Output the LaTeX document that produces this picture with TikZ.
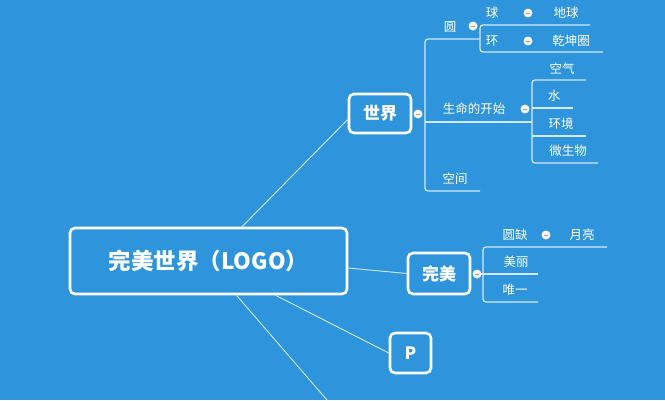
\documentclass[tikz,border=0pt]{standalone}
\usepackage{fontspec}
\newfontfamily\cjk{Noto Sans CJK SC}
\usetikzlibrary{calc}
\definecolor{sky}{HTML}{2E95DC}
\definecolor{wire}{HTML}{D2E9FA}
\definecolor{knobdash}{HTML}{C99C86}
\tikzset{topic/.style={draw=white,line width=2.6pt,rounded corners=5pt,text=white,inner sep=0pt,font=\cjk\bfseries\fontsize{17}{17}\selectfont}}
\tikzset{leaf/.style={text=white,inner sep=0pt,font=\cjk\fontsize{12.5}{12.5}\selectfont}}
\tikzset{link/.style={draw=wire,line width=0.9pt}}
\tikzset{branch/.style={draw=wire,line width=1.2pt,rounded corners=3pt}}
\tikzset{knob/.style={circle,fill=white!92!gray,draw=none,minimum size=9pt,inner sep=0pt,
	path picture={\draw[knobdash,line width=1pt] ([xshift=-2pt]path picture bounding box.center) -- ([xshift=2pt]path picture bounding box.center);}}}

\begin{document}
\begin{tikzpicture}[x=1pt,y=-1pt]
	\fill[sky] (0,0) rectangle (665,400);
	\useasboundingbox (0,0) rectangle (665,400);

	% main topics
	\node[topic,minimum width=277pt,minimum height=66pt,font=\cjk\bfseries\fontsize{22.5}{22.5}\selectfont] (root) at (208.5,261) {完美世界（LOGO）};
	\node[topic,minimum width=62pt,minimum height=39pt] (shijie) at (380,113.5) {世界};
	\node[topic,minimum width=62pt,minimum height=41pt] (wanmei) at (439,273.5) {完美};
	\node[topic,minimum width=41pt,minimum height=40pt] (p) at (410.5,353) {P};
	\coordinate (more) at (327,400);

	\draw[link] ($(root.north west)!0.62!(root.north east)$) -- ([yshift=-6pt]shijie.west);
	\draw[link] ([yshift=-7pt]root.east) -- (wanmei.west);
	\draw[link] ($(root.south west)!0.74!(root.south east)$) -- (p.west);
	\draw[link] ($(root.south west)!0.6!(root.south east)$) -- (more);

	% branch of shijie
	\draw[branch] (480,39) -- (425,39) -- (425,191) -- (480,191);
	\draw[branch] (425,122) -- (532,122);
	\draw[branch] (590,25) -- (480,25) -- (480,52) -- (603,52);
	\draw[branch] (586,80) -- (532,80) -- (532,163) -- (598,163);
	\draw[branch] (532,108) -- (573,108);
	\draw[branch] (532,136) -- (586,136);

	\node[leaf] (yuan) at (450,27) {圆};
	\node[leaf] (qiu) at (492,13) {球};
	\node[leaf] (diqiu) at (566,13) {地球};
	\node[leaf] (huan) at (492,41) {环};
	\node[leaf] (qiankun) at (571,41) {乾坤圈};
	\node[leaf] (shengming) at (474,109) {生命的开始};
	\node[leaf] (kongqi) at (562,69) {空气};
	\node[leaf] (shui) at (554,96) {水};
	\node[leaf] (huanjing) at (561,124) {环境};
	\node[leaf] (weisheng) at (568,151) {微生物};
	\node[leaf] (kongjian) at (455,179) {空间};

	% branch of wanmei
	\draw[branch] (607,247) -- (483,247) -- (483,302) -- (538,302);
	\draw[branch] (477,274) -- (538,274);

	\node[leaf] (yuanque) at (515,235) {圆缺};
	\node[leaf] (yueliang) at (582,235) {月亮};
	\node[leaf] (meili) at (516,262) {美丽};
	\node[leaf] (weiyi) at (515,290) {唯一};

	% collapse knobs
	\node[knob] (k1) at (418,114) {};
	\node[knob] (k2) at (473,26) {};
	\node[knob] (k3) at (528,13) {};
	\node[knob] (k4) at (528,41) {};
	\node[knob] (k5) at (525,109) {};
	\node[knob] (k6) at (477,274) {};
	\node[knob] (k7) at (546,235) {};
\end{tikzpicture}
\end{document}
